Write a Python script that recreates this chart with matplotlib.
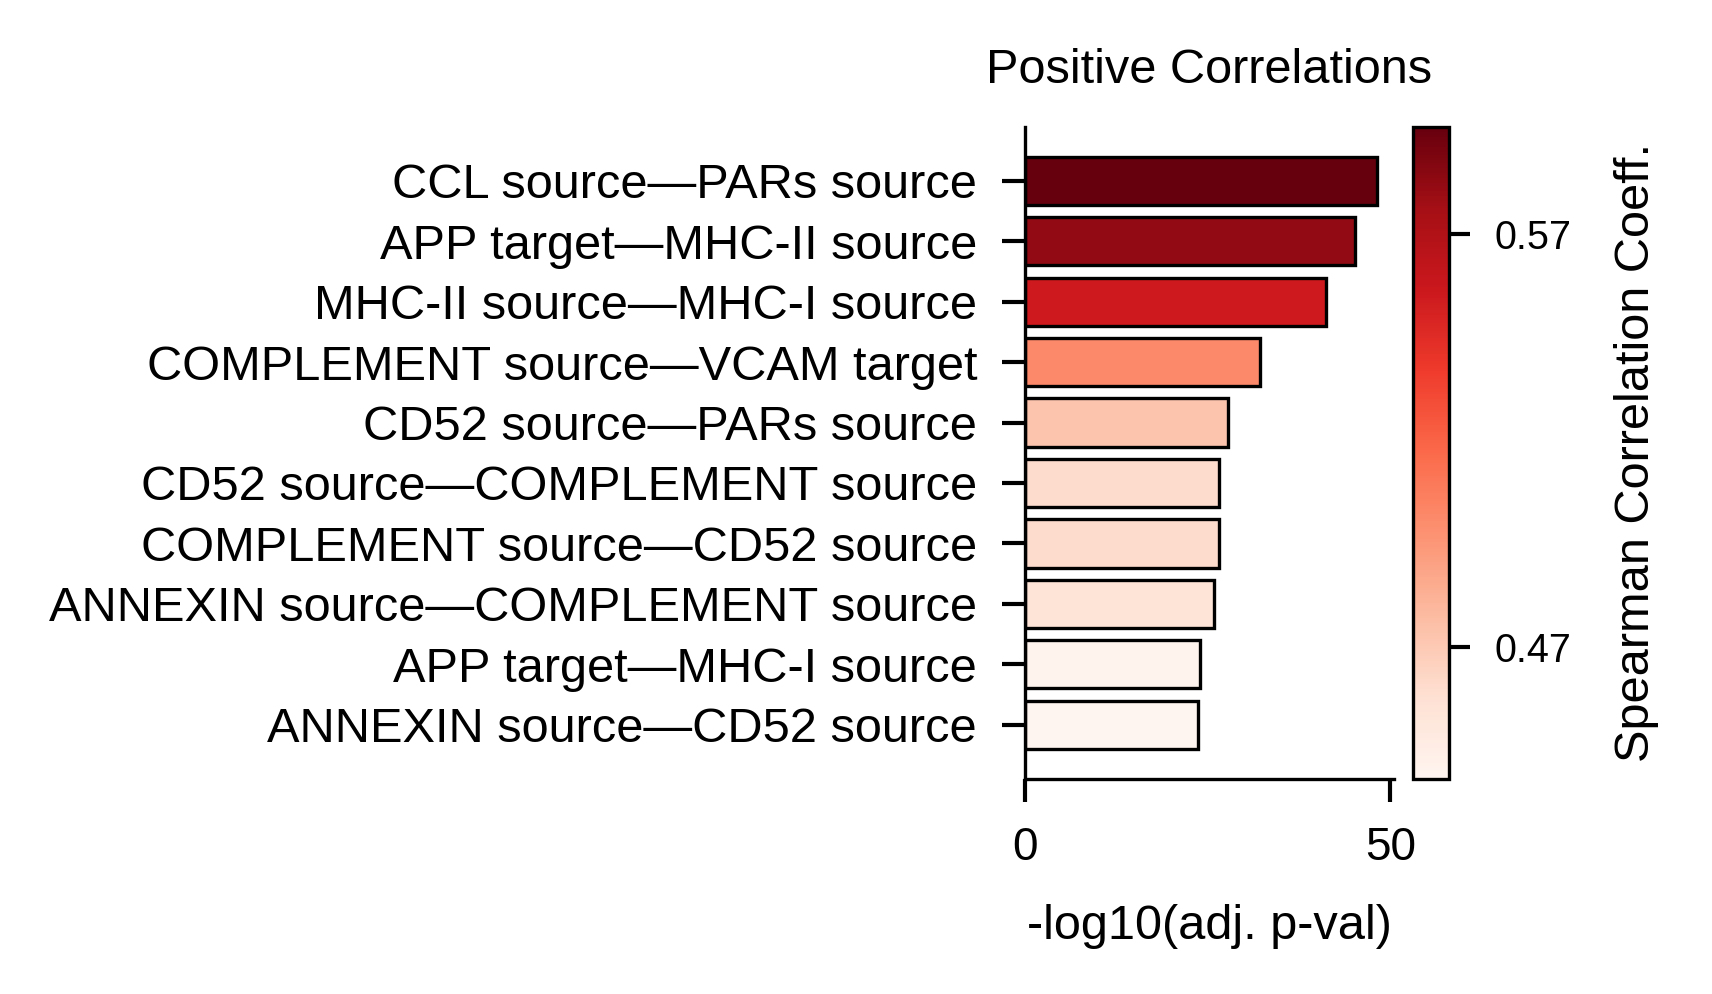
import matplotlib
matplotlib.use('Agg')
import matplotlib.pyplot as plt
import matplotlib as mpl
import numpy as np

plt.rcParams['font.family'] = ['Liberation Sans', 'DejaVu Sans']

# data, top bar first
labels = ['CCL source\u2014PARs source',
          'APP target\u2014MHC-II source',
          'MHC-II source\u2014MHC-I source',
          'COMPLEMENT source\u2014VCAM target',
          'CD52 source\u2014PARs source',
          'CD52 source\u2014COMPLEMENT source',
          'COMPLEMENT source\u2014CD52 source',
          'ANNEXIN source\u2014COMPLEMENT source',
          'APP target\u2014MHC-I source',
          'ANNEXIN source\u2014CD52 source']
neglogp = [48.1, 45.2, 41.2, 32.1, 27.8, 26.6, 26.6, 25.8, 24.0, 23.7]
rho = [0.596, 0.582, 0.555, 0.501, 0.473, 0.460, 0.460, 0.455, 0.440, 0.438]
cbar_ticks = [0.47, 0.57]

fig = plt.figure(figsize=(1712/300, 994/300), dpi=300)
ax = fig.add_axes([0.5987, 0.2168, 0.2156, 0.6554])
cax = fig.add_axes([0.8254, 0.2168, 0.021, 0.6554])

norm = mpl.colors.Normalize(vmin=min(rho), vmax=max(rho))
cmap = plt.get_cmap('Reds')
y = np.arange(len(labels))
ax.barh(y, neglogp, height=0.8, color=cmap(norm(np.array(rho))),
        edgecolor='black', linewidth=0.8)
ax.set_yticks(y)
ax.set_yticklabels(labels, fontsize=11.7)
ax.invert_yaxis()
ax.set_xticks([0, 50])
ax.tick_params(axis='x', labelsize=11, length=5.5, width=1.0, pad=6)
ax.tick_params(axis='y', length=5.5, width=1.0, pad=6)
ax.spines['top'].set_visible(False)
ax.spines['right'].set_visible(False)
for s in ['left', 'bottom']:
    ax.spines[s].set_linewidth(0.8)
ax.set_xlabel('-log10(adj. p-val)', fontsize=11.7, labelpad=8)
ax.set_title('Positive Correlations', fontsize=11.7, pad=10.5)

sm = mpl.cm.ScalarMappable(norm=norm, cmap=cmap)
cb = fig.colorbar(sm, cax=cax)
cb.set_ticks(cbar_ticks)
cb.ax.tick_params(labelsize=9.5, length=5, width=1.0, pad=6)
cb.outline.set_linewidth(0.8)
cb.set_label('Spearman Correlation Coeff.', fontsize=11.7, labelpad=10)

fig.savefig('out.png', dpi=300)
